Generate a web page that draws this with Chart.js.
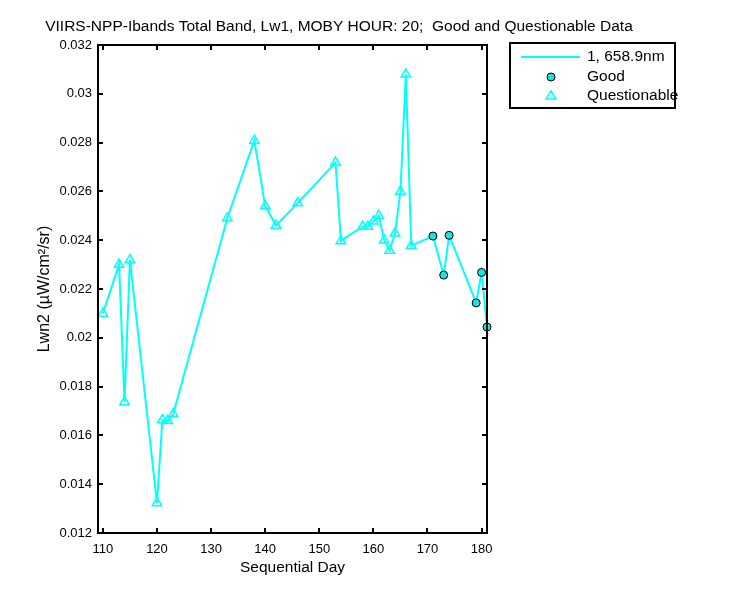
<!DOCTYPE html>
<html>
<head>
<meta charset="UTF-8">
<title>VIIRS-NPP-Ibands Lwn2</title>
<style>
	body { margin: 0; background: #fff; }
	#wrap { width: 750px; height: 600px; }
</style>
<script src="https://cdn.jsdelivr.net/npm/chart.js@4.4.1/dist/chart.umd.min.js"></script>
</head>
<body>
<div id="wrap"><canvas id="myChart" width="750" height="600"></canvas></div>
<script>
	// Questionable points (triangles)
	var qDays = [110, 113, 114, 115, 120, 121, 122, 123, 133, 138, 140, 142, 146, 153, 154, 158, 159, 160, 161, 162, 163, 164, 165, 166, 167];
	var qValues = [0.0210, 0.0230, 0.01737, 0.02319, 0.01323, 0.01663, 0.01660, 0.01688, 0.02490, 0.02808, 0.02540, 0.02460, 0.02552, 0.02718, 0.02397, 0.02456, 0.02456, 0.02478, 0.02500, 0.02400, 0.02358, 0.02428, 0.02600, 0.03080, 0.02378];
	// Good points (circles)
	var gDays = [171, 173, 174, 179, 180, 181];
	var gValues = [0.02417, 0.02257, 0.02420, 0.02143, 0.02268, 0.02044];

	var xTicks = [110, 120, 130, 140, 150, 160, 170, 180];
	var yTicks = [0.012, 0.014, 0.016, 0.018, 0.02, 0.022, 0.024, 0.026, 0.028, 0.03, 0.032];

	var titleText = 'VIIRS-NPP-Ibands Total Band, Lw1, MOBY HOUR: 20;  Good and Questionable Data';
	var lineLabel = '1, 658.9nm';
	var FONT = "'Liberation Sans', Arial, sans-serif";
	var CYAN = '#00ffff';
	var GOOD_FILL = '#20e0e0';

	function toXY(xs, ys) {
		return xs.map(function(x, i) { return {x: x, y: ys[i]}; });
	}
	var allPts = toXY(qDays, qValues).concat(toXY(gDays, gValues));

	// box, inward ticks, title and legend
	var decor = {
		id: 'decor',
		afterDatasetsDraw: function(chart) {
			var ctx = chart.ctx, a = chart.chartArea;
			var sx = chart.scales.x, sy = chart.scales.y;
			ctx.save();
			ctx.strokeStyle = '#000';
			ctx.lineWidth = 2;
			ctx.strokeRect(a.left, a.top, a.right - a.left, a.bottom - a.top);
			ctx.beginPath();
			xTicks.forEach(function(v) {
				var px = Math.round(sx.getPixelForValue(v));
				ctx.moveTo(px, a.bottom); ctx.lineTo(px, a.bottom - 5);
				ctx.moveTo(px, a.top); ctx.lineTo(px, a.top + 5);
			});
			yTicks.forEach(function(v) {
				var py = Math.round(sy.getPixelForValue(v));
				ctx.moveTo(a.left, py); ctx.lineTo(a.left + 5, py);
				ctx.moveTo(a.right, py); ctx.lineTo(a.right - 5, py);
			});
			ctx.stroke();

			// title
			ctx.fillStyle = '#000';
			ctx.font = '15.5px ' + FONT;
			ctx.textAlign = 'center';
			ctx.textBaseline = 'middle';
			ctx.fillText(titleText, 339, 27);

			// legend
			ctx.fillStyle = '#fff';
			ctx.fillRect(510, 43, 165, 65);
			ctx.strokeRect(510, 43, 165, 65);
			ctx.strokeStyle = CYAN;
			ctx.lineWidth = 2;
			ctx.beginPath();
			ctx.moveTo(521, 57); ctx.lineTo(580, 57);
			ctx.stroke();
			ctx.beginPath();
			ctx.arc(551, 77, 4, 0, Math.PI * 2);
			ctx.fillStyle = GOOD_FILL;
			ctx.fill();
			ctx.strokeStyle = '#000';
			ctx.lineWidth = 1;
			ctx.stroke();
			ctx.beginPath();
			ctx.moveTo(551, 91); ctx.lineTo(556, 99); ctx.lineTo(546, 99); ctx.closePath();
			ctx.strokeStyle = CYAN;
			ctx.lineWidth = 1.5;
			ctx.stroke();
			ctx.fillStyle = '#000';
			ctx.textAlign = 'left';
			ctx.fillText(lineLabel, 587, 57);
			ctx.fillText('Good', 587, 77);
			ctx.fillText('Questionable', 587, 96);
			ctx.restore();
		}
	};

	var ctx = document.getElementById('myChart').getContext('2d');
	var myChart = new Chart(ctx, {
		type: 'scatter',
		data: {
			datasets: [{
				label: 'Good',
				data: toXY(gDays, gValues),
				pointStyle: 'circle',
				pointRadius: 4,
				backgroundColor: GOOD_FILL,
				borderColor: '#000',
				borderWidth: 1,
				clip: false
			}, {
				label: 'Questionable',
				data: toXY(qDays, qValues),
				pointStyle: 'triangle',
				pointRadius: 5.5,
				backgroundColor: 'rgba(0,0,0,0)',
				borderColor: CYAN,
				borderWidth: 1.5,
				clip: false
			}, {
				label: lineLabel,
				data: allPts,
				showLine: true,
				pointRadius: 0,
				borderColor: CYAN,
				borderWidth: 2,
				clip: false
			}]
		},
		options: {
			responsive: false,
			animation: false,
			events: [],
			layout: { padding: { left: 0, top: 45, right: 263, bottom: 0 } },
			plugins: { legend: { display: false }, tooltip: { enabled: false }, title: { display: false } },
			scales: {
				x: {
					type: 'linear',
					min: 109.1,
					max: 181,
					afterFit: function(s) { s.height = 67; },
					afterBuildTicks: function(s) { s.ticks = xTicks.map(function(v) { return {value: v}; }); },
					grid: { display: false, drawTicks: false },
					border: { display: false },
					ticks: { color: '#000', padding: 9, maxRotation: 0, font: { family: FONT, size: 13 } },
					title: { display: true, text: 'Sequential Day', color: '#000', padding: { top: 0, bottom: 23 }, font: { family: FONT, size: 15.5 } }
				},
				y: {
					type: 'linear',
					min: 0.012,
					max: 0.032,
					afterFit: function(s) { s.width = 98; },
					afterBuildTicks: function(s) { s.ticks = yTicks.map(function(v) { return {value: v}; }); },
					grid: { display: false, drawTicks: false },
					border: { display: false },
					ticks: { color: '#000', padding: 6, font: { family: FONT, size: 13 }, callback: function(v) { return String(v); } },
					title: { display: true, text: 'Lwn2 (µW/cm²/sr)', color: '#000', padding: { top: 35, bottom: 0 }, font: { family: FONT, size: 16 } }
				}
			}
		},
		plugins: [decor]
	});
</script>
</body>
</html>
